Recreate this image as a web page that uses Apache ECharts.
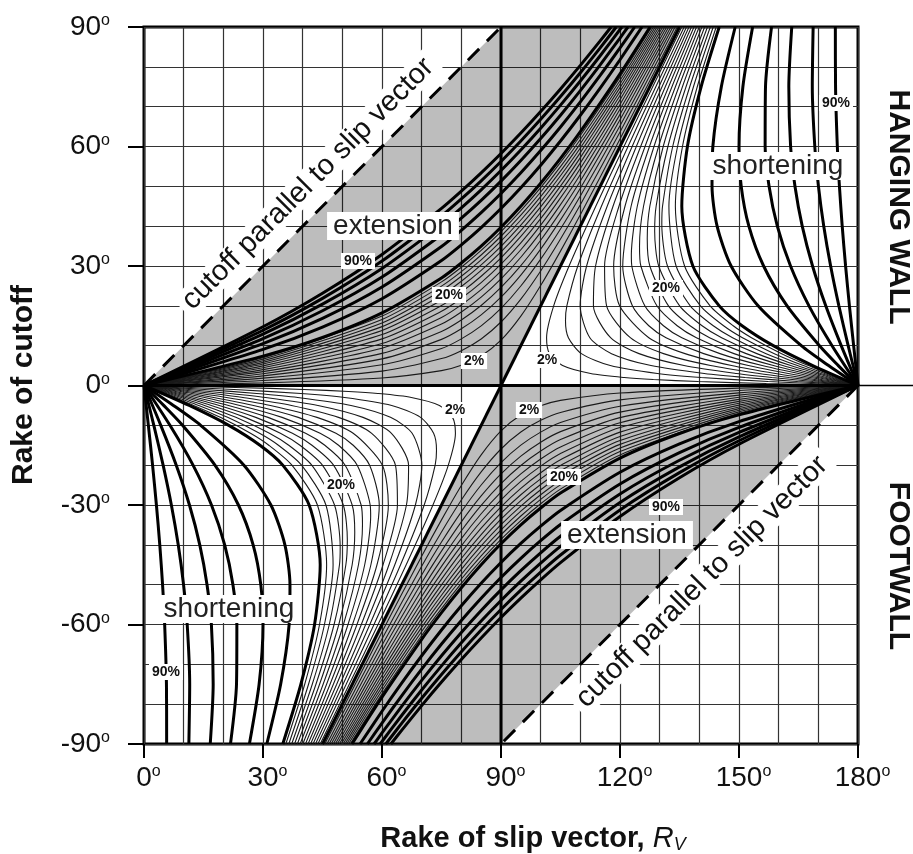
<!DOCTYPE html>
<html>
<head>
<meta charset="utf-8">
<script src="https://cdn.jsdelivr.net/npm/echarts@6/dist/echarts.min.js"></script>
<style>
  html, body { margin: 0; padding: 0; background: #fff; }
  #chart { width: 913px; height: 854px; }
</style>
</head>
<body>
<div id="chart"></div>
<script>
// Curves are read for the hanging-wall half: [rake of slip vector, rake of cutoff].
// The footwall half is the same set drawn on a pair of inverted axes.

// extension contours, thin (2% .. 28%)
const extThin = [
  [[0,0],[30,0.65],[60,1.89],[75,3.73],[80,5.09],[85,7.4],[90,11.37],[95,17.4],[100,25.09],[105,33.73],[110,42.87],[120,61.89],[130,81.33],[134.43,90]],
  [[0,0],[30,1.26],[60,3.62],[75,6.76],[80,8.75],[85,11.69],[90,15.94],[95,21.69],[100,28.75],[105,36.76],[110,45.36],[120,63.62],[130,82.55],[133.88,90]],
  [[0,0],[30,1.85],[60,5.21],[75,9.29],[80,11.71],[85,14.98],[90,19.37],[95,24.98],[100,31.71],[105,39.29],[110,47.57],[120,65.21],[130,83.73],[133.33,90]],
  [[0,0],[30,2.42],[60,6.69],[75,11.58],[80,14.23],[85,17.73],[90,22.19],[95,27.73],[100,34.23],[105,41.58],[110,49.53],[120,66.69],[130,84.82],[132.8,90]],
  [[0,0],[30,2.96],[60,8.07],[75,13.58],[80,16.46],[85,20.09],[90,24.62],[95,30.09],[100,36.46],[105,43.58],[110,51.32],[120,68.07],[130,85.87],[132.27,90]],
  [[0,0],[30,3.48],[60,9.35],[75,15.41],[80,18.44],[85,22.2],[90,26.76],[95,32.2],[100,38.44],[105,45.41],[110,52.98],[120,69.35],[130,86.85],[131.76,90]],
  [[0,0],[30,3.98],[60,10.56],[75,17.09],[80,20.25],[85,24.08],[90,28.69],[95,34.08],[100,40.25],[105,47.09],[110,54.48],[120,70.56],[130,87.78],[131.26,90]],
  [[0,0],[30,4.47],[60,11.7],[75,18.62],[80,21.89],[85,25.82],[90,30.45],[95,35.82],[100,41.89],[105,48.62],[110,55.9],[120,71.7],[130,88.68],[130.76,90]],
  [[0,0],[30,4.93],[60,12.79],[75,20.06],[80,23.43],[85,27.42],[90,32.06],[95,37.42],[100,43.43],[105,50.06],[110,57.21],[120,72.79],[130.28,90]],
  [[0,0],[30,5.38],[60,13.81],[75,21.38],[80,24.85],[85,28.89],[90,33.56],[95,38.89],[100,44.85],[105,51.38],[110,58.45],[120,73.81],[129.81,90]],
  [[0,0],[30,5.8],[60,14.78],[75,22.65],[80,26.16],[85,30.27],[90,34.95],[95,40.27],[100,46.16],[105,52.65],[110,59.62],[120,74.78],[129.34,90]],
  [[0,0],[30,6.22],[60,15.7],[75,23.83],[80,27.42],[85,31.55],[90,36.25],[95,41.55],[100,47.42],[105,53.83],[110,60.73],[120,75.7],[128.89,90]],
  [[0,0],[30,6.62],[60,16.58],[75,24.95],[80,28.58],[85,32.76],[90,37.47],[95,42.76],[100,48.58],[105,54.95],[110,61.77],[120,76.58],[128.44,90]],
  [[0,0],[30,7.0],[60,17.42],[75,26.01],[80,29.7],[85,33.9],[90,38.62],[95,43.9],[100,49.7],[105,56.01],[110,62.76],[120,77.42],[128,90]]
];

// extension contours, thick (30% .. 90%)
const extThick = [
  [[0,0],[30,7.38],[45,12.05],[60,18.23],[75,27.01],[80,30.76],[85,34.98],[90,39.72],[95,44.98],[100,50.76],[105,57.01],[110,63.71],[120,78.23],[127.57,90]],
  [[0,0],[30,9.07],[45,14.66],[60,21.78],[75,31.37],[80,35.3],[85,39.64],[90,44.42],[95,49.64],[100,55.3],[105,61.37],[110,67.84],[115,74.65],[120,81.78],[125.54,90]],
  [[0,0],[30,10.53],[45,16.87],[60,24.74],[75,34.91],[80,38.97],[85,43.39],[90,48.19],[95,53.39],[100,58.97],[105,64.91],[110,71.21],[115,77.83],[120,84.74],[123.69,90]],
  [[0,0],[30,11.79],[45,18.77],[60,27.23],[75,37.86],[80,42.01],[85,46.49],[90,51.32],[95,56.49],[100,62.01],[105,67.86],[110,74.04],[115,80.5],[120,87.23],[122.01,90]],
  [[0,0],[30,12.9],[45,20.42],[60,29.38],[75,40.38],[80,44.6],[85,49.13],[90,53.97],[95,59.13],[100,64.6],[105,70.38],[110,76.44],[115,82.78],[120.47,90]],
  [[0,0],[30,13.87],[45,21.87],[60,31.24],[75,42.55],[80,46.83],[85,51.39],[90,56.25],[95,61.39],[100,66.83],[105,72.55],[110,78.53],[115,84.77],[119.05,90]],
  [[0,0],[30,14.74],[45,23.15],[60,32.89],[75,44.45],[80,48.78],[85,53.38],[90,58.24],[95,63.38],[100,68.78],[105,74.45],[110,80.36],[115,86.51],[117.76,90]]
];

// shortening contours, thin (2% .. 28%)
const shortThin = [
  [[180,0],[156.9,0.5],[139.7,1],[128.41,1.5],[121.06,2],[112.59,3],[105.53,5],[102.22,8],[101.49,12],[103.28,20],[107.16,30],[113.9,45],[121,60],[128.25,75],[135.58,90]],
  [[180,0],[168.18,0.5],[157.35,1],[140.46,2],[129.43,3],[117.55,5],[110.27,8],[106.99,12],[106.26,16.26],[106.6,20],[109.36,30],[115.32,45],[122.02,60],[129.03,75],[136.17,90]],
  [[180,0],[164.74,1],[151.56,2],[141.25,3],[127.81,5],[117.86,8],[112.4,12],[109.95,20],[111.58,30],[116.77,45],[123.07,60],[129.81,75],[136.77,90]],
  [[180,0],[168.67,1],[158.27,2],[149.35,3],[136.16,5],[124.79,8],[117.62,12],[113.3,20],[113.84,30],[118.24,45],[124.12,60],[130.6,75],[137.39,90]],
  [[180,0],[171.09,1],[162.65,2],[155.05,3],[142.82,5],[130.97,8],[122.6,12],[116.62,20],[116.11,30],[119.74,45],[125.21,60],[131.42,75],[138.01,90]],
  [[180,0],[172.71,1],[159.19,3],[148.13,5],[136.39,8],[127.27,12],[119.9,20],[118.4,30],[121.26,45],[126.31,60],[132.26,75],[138.65,90]],
  [[180,0],[167.94,2],[152.38,5],[141.11,8],[131.61,12],[127.26,15],[123.12,20],[120.69,30],[122.8,45],[127.43,60],[133.1,75],[139.3,90]],
  [[180,0],[169.65,2],[155.84,5],[145.19,8],[135.6,12],[130.95,15],[126.25,20],[122.98,30],[122.86,32.86],[124.36,45],[128.57,60],[133.97,75],[139.97,90]],
  [[180,0],[170.99,2],[158.68,5],[148.74,8],[139.26,12],[134.42,15],[129.29,20],[125.26,30],[124.92,34.92],[125.93,45],[129.72,60],[134.84,75],[140.65,90]],
  [[180,0],[172.07,2],[161.05,5],[151.82,8],[142.59,12],[137.66,15],[132.22,20],[127.52,30],[126.87,36.87],[127.52,45],[130.89,60],[135.74,75],[141.34,90]],
  [[180,0],[172.96,2],[163.04,5],[154.5,8],[145.62,12],[140.69,15],[135.03,20],[129.76,30],[128.74,38.74],[129.11,45],[132.08,60],[136.65,75],[142.05,90]],
  [[180,0],[173.71,2],[164.75,5],[156.85,8],[148.38,12],[143.51,15],[137.71,20],[131.97,30],[130.54,40.54],[130.72,45],[133.29,60],[137.58,75],[142.77,90]],
  [[180,0],[174.34,2],[166.21,5],[158.92,8],[150.88,12],[146.12,15],[140.28,20],[134.14,30],[132.33,45],[134.51,60],[138.52,75],[143.5,90]],
  [[180,0],[174.88,2],[167.49,5],[160.75,8],[153.15,12],[148.54,15],[142.71,20],[136.28,30],[133.96,45],[135.75,60],[139.48,75],[144.25,90]]
];

// shortening contours, thick (30% .. 90%)
const shortThick = [
  [[180,0],[168.6,5],[158.63,10],[150.77,15],[145.02,20],[138.37,30],[135.58,45],[137,60],[140.45,75],[145.01,90]],
  [[180,0],[172.59,5],[165.71,10],[154.81,20],[148.01,30],[144.48,40],[143.2,50],[143.41,60],[145.55,75],[149.04,90]],
  [[180,0],[175.04,5],[170.29,10],[162.12,20],[156.2,30],[152.49,40],[150.56,50],[150,60],[150.98,75],[153.43,90]],
  [[180,0],[173.46,10],[167.64,20],[162.99,30],[159.66,40],[157.58,50],[156.59,60],[156.68,75],[158.2,90]],
  [[180,0],[175.77,10],[171.87,20],[168.54,30],[165.94,40],[164.11,50],[163.01,60],[162.56,75],[163.3,90]],
  [[180,0],[177.52,10],[175.18,20],[173.1,30],[171.37,40],[170.03,50],[169.11,60],[168.48,75],[168.69,90]],
  [[180,0],[178.9,10],[177.84,20],[176.87,30],[176.02,40],[175.32,50],[174.79,60],[174.34,75],[174.29,90]]
];

const cutoffParallel = [[0,0],[90,90]];        // dashed line
const zeroStrain = [[90,0],[135,90]];          // 0% line
const dipSlipLine = [[90,-90],[90,90]];
const horizCutoffLine = [[0,0],[180,0]];
const extensionField = [[0,0],[90,90],[135,90],[90,0]];   // grey area

const FONT = '"Liberation Sans", Arial, Helvetica, sans-serif';
const chart = echarts.init(document.getElementById('chart'), null, { renderer: 'canvas' });

function curves(list, width, color, ax, z) {
  return list.map(pts => ({
    type: 'line', data: pts, xAxisIndex: ax, yAxisIndex: ax,
    symbol: 'none', smooth: 0.25, silent: true, z: z,
    lineStyle: { width: width, color: color }
  }));
}
function straight(pts, ax, extra) {
  return {
    type: 'line', data: pts, xAxisIndex: ax, yAxisIndex: ax,
    symbol: 'none', silent: true, z: 6,
    lineStyle: Object.assign({ width: 3, color: '#000' }, extra || {})
  };
}
function shade(ax) {
  return {
    type: 'custom', xAxisIndex: ax, yAxisIndex: ax, silent: true, z: 1,
    data: [extensionField[0]],
    renderItem: (params, api) => ({
      type: 'polygon',
      shape: { points: extensionField.map(p => api.coord(p)) },
      style: { fill: 'rgba(0,0,0,0.26)' }
    })
  };
}

let series = [];
[0, 1].forEach(ax => {
  series.push(shade(ax));
  series = series.concat(curves(extThin, 1.1, '#1a1a1a', ax, 3));
  series = series.concat(curves(shortThin, 1.1, '#1a1a1a', ax, 3));
  series = series.concat(curves(extThick, 3, '#000', ax, 4));
  series = series.concat(curves(shortThick, 3, '#000', ax, 4));
  series.push(straight(cutoffParallel, ax, { type: [16, 11] }));
  series.push(straight(zeroStrain, ax));
});
series.push(straight(dipSlipLine, 0));
series.push(straight(horizCutoffLine, 0));

const degRich = {
  n: { fontSize: 28, fontFamily: FONT, color: '#111' },
  nx: { fontSize: 28, fontFamily: FONT, color: '#111', padding: [0, 0, 0, 9] },
  d: { fontSize: 16, fontFamily: FONT, color: '#111', verticalAlign: 'top' }
};
const gridLine = { show: true, lineStyle: { color: '#333', width: 1.2 } };

function pct(text, x, y) {
  return { type: 'text', x: x, y: y, z: 100, silent: true,
    style: { text: text, fill: '#111', font: 'bold 14px ' + FONT, align: 'center', verticalAlign: 'middle',
      backgroundColor: '#fff', padding: [1, 3] } };
}
function word(text, x, y) {
  return { type: 'text', x: x, y: y, z: 100, silent: true,
    style: { text: text, fill: '#222', font: '28px ' + FONT, align: 'center', verticalAlign: 'middle',
      backgroundColor: '#fff', padding: [0, 6] } };
}
function rotated(text, x, y, rot, font, bg) {
  return { type: 'text', x: x, y: y, rotation: rot, z: 100, silent: true,
    style: { text: text, fill: '#111', font: font, align: 'center', verticalAlign: 'middle',
      backgroundColor: bg || 'transparent', padding: bg ? [0, 6] : 0 } };
}

chart.setOption({
  animation: false,
  backgroundColor: '#fff',
  grid: { left: 144, top: 27, width: 714, height: 717, containLabel: false, outerBoundsMode: 'none',
    show: true, borderColor: '#000', borderWidth: 3, backgroundColor: 'transparent' },
  xAxis: [
    { type: 'value', min: 0, max: 180, interval: 30, position: 'bottom',
      axisLine: { show: false, onZero: false },
      axisTick: { show: true, inside: false, length: 14, lineStyle: { color: '#000', width: 2 } },
      axisLabel: { margin: 20, formatter: v => '{nx|' + v + '}{d|o}', rich: degRich },
      splitLine: gridLine,
      minorTick: { show: false, splitNumber: 3 },
      minorSplitLine: gridLine },
    { type: 'value', min: 0, max: 180, inverse: true, show: false }
  ],
  yAxis: [
    { type: 'value', min: -90, max: 90, interval: 30, position: 'left',
      axisLine: { show: false, onZero: false },
      axisTick: { show: true, inside: false, length: 16, lineStyle: { color: '#000', width: 2 } },
      axisLabel: { margin: 34, formatter: v => '{n|' + v + '}{d|o}', rich: degRich },
      splitLine: gridLine,
      minorTick: { show: false, splitNumber: 3 },
      minorSplitLine: gridLine },
    { type: 'value', min: -90, max: 90, inverse: true, show: false }
  ],
  series: series,
  graphic: [
    { type: 'line', z: 100, silent: true, shape: { x1: 858, y1: 385.5, x2: 913, y2: 385.5 },
      style: { stroke: '#000', lineWidth: 1.5 } },
    rotated('Rake of cutoff', 24, 385, Math.PI / 2, 'bold 30px ' + FONT),
    { type: 'text', x: 533, y: 839, z: 100, silent: true,
      style: { text: '{b|Rake of slip vector, }{i|R}{s|V}', align: 'center', verticalAlign: 'middle',
        rich: {
          b: { font: 'bold 29px ' + FONT, fill: '#111' },
          i: { font: 'italic 29px ' + FONT, fill: '#111' },
          s: { font: 'italic 18px ' + FONT, fill: '#111', verticalAlign: 'bottom' }
        } } },
    rotated('HANGING WALL', 898, 207, -Math.PI / 2, 'bold 30px ' + FONT),
    rotated('FOOTWALL', 898, 566, -Math.PI / 2, 'bold 30px ' + FONT),
    rotated('cutoff parallel to slip vector', 308, 184, Math.PI / 4, '29px ' + FONT, '#fff'),
    rotated('cutoff parallel to slip vector', 702, 582, Math.PI / 4, '29px ' + FONT, '#fff'),
    word('extension', 393, 226),
    word('extension', 627, 535),
    word('shortening', 778, 166),
    word('shortening', 229, 609),
    pct('90%', 358, 261), pct('20%', 449, 295), pct('2%', 474, 361),
    pct('90%', 836, 103), pct('20%', 666, 288), pct('2%', 547, 360),
    pct('2%', 455, 410), pct('20%', 341, 485), pct('90%', 166, 672),
    pct('2%', 529, 410), pct('20%', 564, 477), pct('90%', 666, 507)
  ]
});
</script>
</body>
</html>
